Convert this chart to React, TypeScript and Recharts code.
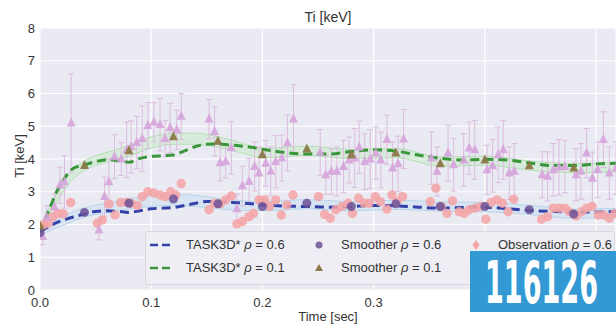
import React from "react";
import { ComposedChart, XAxis, YAxis, CartesianGrid, Line, Scatter, Area, ErrorBar } from "recharts";

// ---- TASK3D* simulation lines ----
const taskT = [0, 0.005, 0.01, 0.015, 0.02, 0.025, 0.03, 0.04, 0.05, 0.06, 0.07, 0.08, 0.09, 0.1, 0.11, 0.12, 0.13, 0.14, 0.15, 0.16, 0.17, 0.18, 0.19, 0.2, 0.22, 0.24, 0.26, 0.28, 0.3, 0.32, 0.34, 0.36, 0.38, 0.4, 0.42, 0.44, 0.46, 0.48, 0.5, 0.518];
const task06 = [1.78, 1.88, 1.98, 2.06, 2.12, 2.18, 2.23, 2.32, 2.4, 2.42, 2.4, 2.37, 2.42, 2.48, 2.5, 2.52, 2.58, 2.65, 2.7, 2.7, 2.68, 2.66, 2.63, 2.6, 2.56, 2.55, 2.53, 2.55, 2.58, 2.57, 2.53, 2.5, 2.52, 2.53, 2.48, 2.43, 2.4, 2.38, 2.38, 2.4];
const task01 = [1.75, 2.2, 2.6, 3.0, 3.3, 3.55, 3.72, 3.82, 3.92, 3.98, 3.95, 3.9, 4.02, 4.08, 4.1, 4.12, 4.25, 4.38, 4.45, 4.46, 4.43, 4.4, 4.36, 4.3, 4.2, 4.15, 4.15, 4.23, 4.28, 4.24, 4.12, 4.02, 3.97, 3.99, 3.97, 3.88, 3.8, 3.8, 3.85, 3.87];

// ---- Smoother bands ----
const bandT = [0, 0.01, 0.02, 0.03, 0.04, 0.06, 0.08, 0.1, 0.12, 0.14, 0.16, 0.18, 0.2, 0.24, 0.28, 0.32, 0.36, 0.4, 0.44, 0.48, 0.518];
const band01Mid = [1.8, 2.5, 3.1, 3.55, 3.8, 4.05, 4.25, 4.5, 4.62, 4.62, 4.52, 4.35, 4.18, 4.25, 4.15, 4.18, 3.92, 3.95, 3.8, 3.72, 3.75];
const band06Mid = [1.75, 1.95, 2.1, 2.25, 2.37, 2.5, 2.63, 2.72, 2.76, 2.72, 2.64, 2.58, 2.56, 2.62, 2.56, 2.6, 2.55, 2.53, 2.45, 2.33, 2.35];
const bandHalf = [0.1, 0.12, 0.14, 0.14, 0.14, 0.15, 0.16, 0.17, 0.17, 0.17, 0.16, 0.15, 0.14, 0.14, 0.14, 0.14, 0.14, 0.14, 0.14, 0.14, 0.14];

// ---- Smoother markers ----
const smoothT = [0, 0.04, 0.08, 0.12, 0.16, 0.2, 0.24, 0.28, 0.32, 0.36, 0.4, 0.44, 0.48];
const smooth06 = [1.75, 2.37, 2.65, 2.78, 2.63, 2.55, 2.65, 2.55, 2.63, 2.55, 2.55, 2.45, 2.32];
const smooth01 = [1.95, 3.8, 4.25, 4.68, 4.54, 4.13, 4.3, 4.13, 4.18, 3.85, 3.97, 3.79, 3.72];

// ---- Observations rho = 0.6 ----
const obs06T = [0.003, 0.0075, 0.0114, 0.0165, 0.021, 0.0275, 0.0515, 0.056, 0.062, 0.0675, 0.0725, 0.078, 0.082, 0.0875, 0.092, 0.097, 0.1025, 0.108, 0.1125, 0.1175, 0.122, 0.127, 0.152, 0.157, 0.162, 0.167, 0.172, 0.177, 0.182, 0.188, 0.192, 0.197, 0.202, 0.2065, 0.212, 0.217, 0.222, 0.2275, 0.2505, 0.256, 0.261, 0.266, 0.2715, 0.277, 0.281, 0.2865, 0.2915, 0.296, 0.3015, 0.306, 0.312, 0.3165, 0.321, 0.326, 0.351, 0.356, 0.361, 0.366, 0.371, 0.377, 0.3815, 0.386, 0.3915, 0.3965, 0.401, 0.4055, 0.411, 0.416, 0.421, 0.426, 0.451, 0.4565, 0.4615, 0.467, 0.472, 0.476, 0.482, 0.487, 0.4915, 0.4965, 0.502, 0.507, 0.512, 0.517];
const obs06V = [1.99, 2.04, 2.24, 2.34, 2.32, 2.67, 2.04, 2.14, 2.63, 2.29, 2.67, 2.68, 2.65, 2.58, 2.85, 3.0, 2.96, 2.9, 2.85, 3.0, 2.9, 3.25, 2.45, 2.65, 2.63, 2.75, 2.87, 2.02, 2.09, 2.24, 2.34, 2.75, 2.75, 2.55, 2.75, 2.29, 2.6, 2.9, 2.85, 2.31, 2.19, 2.45, 2.55, 2.65, 2.34, 2.8, 2.65, 2.65, 2.85, 2.7, 2.47, 2.9, 2.7, 2.85, 2.7, 3.11, 2.55, 2.34, 2.72, 2.39, 2.34, 2.45, 2.5, 2.55, 2.16, 2.67, 2.75, 2.65, 2.39, 2.77, 2.16, 2.24, 2.5, 2.5, 2.5, 2.39, 2.26, 2.39, 2.5, 2.55, 2.29, 2.29, 2.19, 2.34];

// ---- Observations rho = 0.1 (with error bars) ----
const obs01T = [0.0024, 0.006, 0.013, 0.018, 0.022, 0.028, 0.053, 0.058, 0.062, 0.067, 0.073, 0.078, 0.082, 0.087, 0.092, 0.097, 0.1025, 0.108, 0.1125, 0.117, 0.123, 0.127, 0.152, 0.157, 0.162, 0.167, 0.172, 0.177, 0.182, 0.188, 0.193, 0.197, 0.203, 0.2075, 0.212, 0.2175, 0.2225, 0.228, 0.252, 0.257, 0.262, 0.267, 0.273, 0.278, 0.283, 0.287, 0.292, 0.297, 0.302, 0.3065, 0.312, 0.317, 0.322, 0.327, 0.352, 0.357, 0.367, 0.372, 0.381, 0.386, 0.391, 0.402, 0.407, 0.412, 0.4166, 0.422, 0.4265, 0.4517, 0.4565, 0.4616, 0.4667, 0.472, 0.482, 0.4865, 0.4916, 0.4967, 0.5015, 0.5066, 0.512, 0.518];
const obs01V = [1.63, 2.23, 2.54, 3.2, 3.3, 5.1, 1.83, 2.85, 3.3, 4.07, 4.0, 4.28, 4.37, 4.5, 4.62, 5.02, 5.12, 5.05, 4.62, 4.95, 4.89, 5.3, 5.22, 4.84, 3.88, 3.92, 4.34, 2.48, 3.18, 3.31, 3.77, 3.57, 3.87, 3.62, 3.92, 4.03, 4.49, 5.22, 4.2, 3.52, 3.62, 3.62, 3.77, 3.97, 4.03, 4.36, 3.92, 4.0, 4.18, 3.97, 4.59, 3.72, 3.85, 4.61, 4.03, 3.62, 4.18, 3.82, 3.97, 4.33, 4.28, 3.67, 3.79, 4.13, 4.28, 3.57, 3.62, 3.52, 3.47, 3.67, 3.75, 3.77, 3.52, 3.62, 4.18, 3.41, 3.67, 4.59, 3.57, 3.72];
const obs01Err = [0.25, 0.35, 0.4, 0.55, 0.8, 1.5, 0.3, 0.6, 0.7, 0.67, 0.5, 0.85, 0.8, 0.8, 1.0, 0.7, 0.6, 0.8, 0.55, 0.75, 0.6, 0.7, 0.6, 0.75, 0.55, 0.5, 0.8, 0.45, 0.6, 0.7, 0.75, 0.8, 0.7, 0.75, 0.8, 0.7, 0.85, 1.05, 0.7, 0.6, 0.7, 0.75, 0.8, 0.7, 0.9, 0.8, 0.85, 0.9, 0.8, 0.85, 0.75, 0.8, 0.85, 0.9, 0.8, 0.75, 0.85, 0.8, 0.8, 0.8, 0.9, 0.75, 0.8, 0.85, 0.9, 0.8, 0.85, 0.7, 0.75, 0.8, 0.85, 0.8, 0.8, 0.85, 0.75, 0.8, 0.85, 0.85, 0.8, 0.8];

const xTicks = [0, 0.1, 0.2, 0.3, 0.4, 0.5];
const xTickLabels = ["0.0", "0.1", "0.2", "0.3", "", ""]; // 0.4 and 0.5 are hidden under the ID badge
const yTicks = [0, 1, 2, 3, 4, 5, 6, 7, 8];

const FONT = '"Liberation Sans", Arial, sans-serif';
const C = {
  bg: "#eaeaf2",
  blue: "#3340aa",
  green: "#3a963a",
  pink: "#f5a3a6",
  violet: "#d6a4dc",
  violetBar: "#dcbce0",
  purple: "#6c5197",
  brown: "#8a7846",
  bandG: "#c6eac6",
  bandB: "#c6def0",
  text: "#333333",
};

const pts = (ts: number[], vs: number[]) => ts.map((t, i) => ({ t, v: vs[i] }));
const task06Data = pts(taskT, task06);
const task01Data = pts(taskT, task01);
const band01Data = bandT.map((t, i) => ({ t, r: [band01Mid[i] - bandHalf[i], band01Mid[i] + bandHalf[i]] }));
const band06Data = bandT.map((t, i) => ({ t, r: [band06Mid[i] - bandHalf[i], band06Mid[i] + bandHalf[i]] }));
const smooth06Data = pts(smoothT, smooth06);
const smooth01Data = pts(smoothT, smooth01);
const obs06Data = pts(obs06T, obs06V);
const obs01Data = obs01T.map((t, i) => ({ t, v: obs01V[i], err: obs01Err[i] ?? 0.7 }));

const circleShape = (color: string, r: number, op: number) => (p: any) => {
  if (p == null || p.cx == null || p.cy == null) return <g />;
  return <circle cx={p.cx} cy={p.cy} r={r} fill={color} fillOpacity={op} />;
};
const triShape = (color: string, s: number, op: number) => (p: any) => {
  if (p == null || p.cx == null || p.cy == null) return <g />;
  const { cx, cy } = p;
  return (
    <polygon
      points={`${cx},${cy - s * 0.62} ${cx - s / 2},${cy + s * 0.38} ${cx + s / 2},${cy + s * 0.38}`}
      fill={color}
      fillOpacity={op}
    />
  );
};

const Rho = () => <span style={{ fontStyle: "italic" }}>ρ</span>;

function LegendBox() {
  const row1 = 13;
  const row2 = 36;
  const item = (x: number, y: number, marker: React.ReactNode, label: React.ReactNode, tx: number) => (
    <>
      <svg style={{ position: "absolute", left: x, top: y - 6, overflow: "visible" }} width={24} height={12}>
        {marker}
      </svg>
      <div style={{ position: "absolute", left: tx, top: y - 8, fontSize: 13, lineHeight: "16px", color: C.text, whiteSpace: "nowrap" }}>
        {label}
      </div>
    </>
  );
  return (
    <div
      style={{
        position: "absolute",
        left: 145,
        top: 231,
        width: 468,
        height: 52,
        background: "rgba(238,238,244,0.85)",
        border: "1px solid #d8d8e0",
        borderRadius: 3,
        fontFamily: FONT,
      }}
    >
      {item(4, row1, <line x1={0} y1={6} x2={22} y2={6} stroke={C.blue} strokeWidth={2.5} strokeDasharray="8 4" />, <>TASK3D* <Rho /> = 0.6</>, 40)}
      {item(4, row2, <line x1={0} y1={6} x2={22} y2={6} stroke={C.green} strokeWidth={2.5} strokeDasharray="8 4" />, <>TASK3D* <Rho /> = 0.1</>, 40)}
      {item(162, row1, <circle cx={11} cy={6} r={3.5} fill={C.purple} fillOpacity={0.85} />, <>Smoother <Rho /> = 0.6</>, 195)}
      {item(162, row2, <polygon points="11,2 7,9 15,9" fill={C.brown} />, <>Smoother <Rho /> = 0.1</>, 195)}
      {item(319, row1, <polygon points="11,1 14.5,6 11,11 7.5,6" fill={C.pink} />, <>Observation <Rho /> = 0.6</>, 352)}
    </div>
  );
}

export default function App() {
  return (
    <div style={{ position: "absolute", left: 0, top: 0, width: 616, height: 325, overflow: "hidden", background: "#fff", fontFamily: FONT }}>
      <ComposedChart width={616} height={325} margin={{ top: 28, right: 0, bottom: 0, left: 0 }}>
        <CartesianGrid fill={C.bg} stroke="#ffffff" strokeWidth={1.2} />
        <XAxis
          type="number"
          dataKey="t"
          domain={[0, 0.518]}
          ticks={xTicks}
          allowDataOverflow
          tickFormatter={(v: number) => xTickLabels[xTicks.indexOf(v)] ?? ""}
          height={35}
          axisLine={false}
          tickLine={false}
          tick={{ fontSize: 13, fill: C.text, fontFamily: FONT }}
        />
        <YAxis
          type="number"
          domain={[0, 8]}
          ticks={yTicks}
          allowDataOverflow
          width={40}
          axisLine={false}
          tickLine={false}
          tickSize={0}
          tickMargin={5}
          tick={{ fontSize: 13, fill: C.text, fontFamily: FONT }}
        />
        <Area data={band01Data} dataKey="r" type="monotone" fill={C.bandG} fillOpacity={0.5} stroke="#b3e0b3" strokeWidth={1} isAnimationActive={false} />
        <Area data={band06Data} dataKey="r" type="monotone" fill={C.bandB} fillOpacity={0.5} stroke="#b6d6ec" strokeWidth={1} isAnimationActive={false} />
        <Scatter data={obs06Data} dataKey="v" shape={circleShape(C.pink, 4.7, 0.85)} isAnimationActive={false} />
        <Scatter data={obs01Data} dataKey="v" shape={triShape(C.violet, 9, 0.9)} isAnimationActive={false}>
          <ErrorBar dataKey="err" direction="y" width={3} stroke={C.violetBar} strokeWidth={1} />
        </Scatter>
        <Line data={task06Data} dataKey="v" type="monotone" stroke={C.blue} strokeWidth={3} strokeDasharray="9 5" dot={false} activeDot={false} isAnimationActive={false} />
        <Line data={task01Data} dataKey="v" type="monotone" stroke={C.green} strokeWidth={3} strokeDasharray="9 5" dot={false} activeDot={false} isAnimationActive={false} />
        <Scatter data={smooth06Data} dataKey="v" shape={circleShape(C.purple, 4.5, 0.85)} isAnimationActive={false} />
        <Scatter data={smooth01Data} dataKey="v" shape={triShape(C.brown, 9, 0.95)} isAnimationActive={false} />
      </ComposedChart>

      <div style={{ position: "absolute", left: 278, top: 9, width: 100, textAlign: "center", fontSize: 14, color: C.text }}>Ti [keV]</div>
      <div style={{ position: "absolute", left: 278, top: 309, width: 100, textAlign: "center", fontSize: 13, color: C.text }}>Time [sec]</div>
      <div
        style={{
          position: "absolute",
          left: 20 - 40,
          top: 156 - 8,
          width: 80,
          height: 16,
          textAlign: "center",
          fontSize: 13,
          lineHeight: "16px",
          color: C.text,
          transform: "rotate(-90deg)",
        }}
      >
        Ti [keV]
      </div>

      <LegendBox />

      <svg style={{ position: "absolute", left: 470, top: 251, overflow: "visible" }} width={146} height={61}>
        <rect x={0} y={0} width={146} height={61} fill="#3399d4" />
        <text
          x={15}
          y={52}
          fill="#ffffff"
          fontSize={58}
          fontWeight="bold"
          fontFamily='"Liberation Sans Narrow", "DejaVu Sans Condensed", "Liberation Sans", sans-serif'
          textLength={113}
          lengthAdjust="spacingAndGlyphs"
        >
          116126
        </text>
      </svg>
    </div>
  );
}
